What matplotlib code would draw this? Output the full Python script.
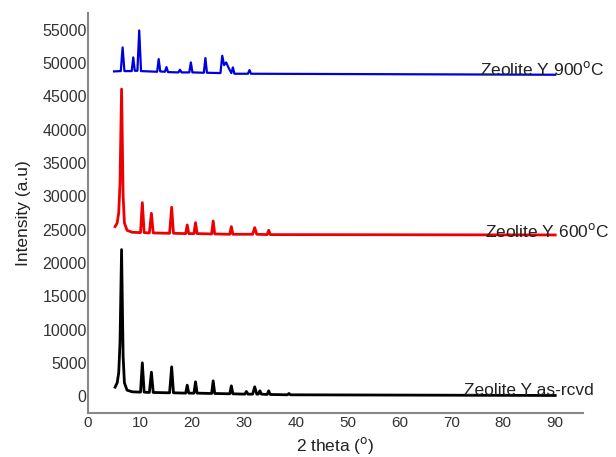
import matplotlib.pyplot as plt

plt.rcParams['font.family'] = ['Liberation Sans', 'DejaVu Sans']

# XRD patterns (2 theta in degrees, intensity in a.u.)
asrcvd_x = [5.2, 5.6, 5.9, 6.15, 6.45, 6.75, 7.0, 7.5, 8.5, 10.1, 10.45, 10.8,
            11.8, 12.2, 12.55, 15.7, 16.1, 16.45, 18.8, 19.1, 19.4, 20.4, 20.7, 21.0,
            23.8, 24.1, 24.4, 27.3, 27.6, 27.9, 30.2, 30.5, 30.8, 31.7, 32.1, 32.5,
            32.8, 33.1, 33.4, 34.5, 34.8, 35.1, 38.4, 38.7, 39.0, 90]
asrcvd_y = [1350, 2000, 3500, 8000, 22000, 6000, 2000, 900, 650, 600, 5000, 600,
            550, 3600, 550, 500, 4400, 500, 450, 1650, 450, 450, 2150, 450,
            400, 2300, 400, 350, 1550, 350, 300, 700, 300, 300, 1400, 300,
            300, 800, 300, 250, 800, 250, 200, 400, 200, 100]

c600_x = [5.2, 5.6, 5.9, 6.15, 6.45, 6.75, 7.0, 7.5, 8.5, 10.1, 10.45, 10.8,
          11.8, 12.2, 12.55, 15.7, 16.1, 16.45, 18.8, 19.1, 19.4, 20.4, 20.7, 21.0,
          23.8, 24.1, 24.4, 27.3, 27.6, 27.9, 31.7, 32.1, 32.5, 34.5, 34.8, 35.1, 90]
c600_y = [25450, 26000, 27500, 32000, 46100, 30000, 26000, 24900, 24600, 24550, 29050, 24550,
          24500, 27450, 24500, 24450, 28350, 24450, 24400, 25700, 24400, 24400, 26050, 24400,
          24350, 26300, 24350, 24300, 25450, 24300, 24300, 25300, 24300, 24250, 24900, 24250, 24200]

c900_x = [5.0, 6.3, 6.65, 7.0, 8.4, 8.7, 9.0, 9.5, 9.85, 10.2, 13.3, 13.6, 13.9,
          14.8, 15.1, 15.4, 17.4, 17.7, 18.0, 19.5, 19.8, 20.1, 22.3, 22.6, 22.9,
          25.5, 25.85, 26.2, 26.6, 27.0, 27.6, 27.9, 28.2, 30.8, 31.1, 31.4, 90]
c900_y = [48750, 48800, 52350, 48800, 48800, 50850, 48850, 48850, 54900, 48800, 48700, 50600, 48750,
          48700, 49400, 48650, 48600, 49000, 48600, 48600, 50100, 48600, 48550, 50750, 48550,
          48500, 51100, 49700, 50100, 49400, 48500, 49350, 48400, 48400, 48950, 48400, 48250]

deg = '$^{\\rm o}$'
labels = ['Zeolite Y as-rcvd', 'Zeolite Y 600' + deg + 'C', 'Zeolite Y 900' + deg + 'C']

fig = plt.figure(figsize=(6.16, 4.57), dpi=100)
ax = fig.add_axes([0.143, 0.096, 0.803, 0.876])

ax.plot(asrcvd_x, asrcvd_y, color='black', lw=2.0, solid_joinstyle='round')
ax.plot(c600_x, c600_y, color='#ee0000', lw=2.0, solid_joinstyle='round')
ax.plot(c900_x, c900_y, color='#0000dd', lw=1.6, solid_joinstyle='round')

ax.text(72.4, 150, labels[0], fontsize=12.5, color='#222222', va='baseline', clip_on=False)
ax.text(76.5, 23940, labels[1], fontsize=12.5, color='#222222', va='baseline', clip_on=False)
ax.text(75.6, 48250, labels[2], fontsize=12.5, color='#222222', va='baseline', clip_on=False)

ax.set_xlim(0, 95.3)
ax.set_ylim(-2550, 57550)
ax.set_xticks(range(0, 100, 10))
ax.set_yticks(range(0, 60000, 5000))
ax.tick_params(length=0, colors='#333333')
ax.tick_params(axis='x', pad=2, labelsize=11)
ax.tick_params(axis='y', pad=1, labelsize=11.5)

for s in ['top', 'right']:
    ax.spines[s].set_visible(False)
for s in ['left', 'bottom']:
    ax.spines[s].set_color('#888888')
    ax.spines[s].set_linewidth(1.5)

ax.set_xlabel('2 theta (' + deg + ')', fontsize=12.5, color='#222222', labelpad=4)
ax.set_ylabel('Intensity (a.u)', fontsize=12.5, color='#222222', labelpad=8)

fig.savefig('out.png', dpi=100)
